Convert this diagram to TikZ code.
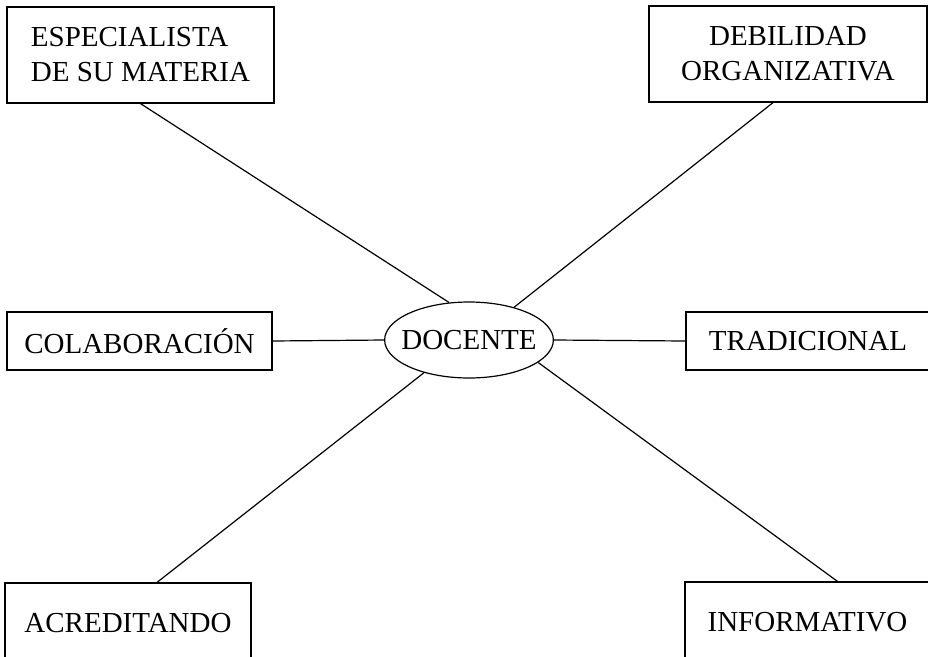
\documentclass[tikz,border=0pt]{standalone}
\usepackage{fontspec}
\setmainfont{Liberation Serif}
\usetikzlibrary{shapes.geometric}

\begin{document}
\begin{tikzpicture}[x=1pt, y=-1pt, font=\fontsize{29}{35}\selectfont,
  caja/.style={shape=rectangle, draw, line width=1.2pt, inner sep=0pt},
  enlace/.style={every edge/.style={draw, line width=1.2pt}}]
\useasboundingbox (0,0) rectangle (928,656);
\clip (0,0) rectangle (928,656);
\node[caja, minimum width=267pt, minimum height=96pt, align=left] (esp) at (140.5,55) {ESPECIALISTA\\DE SU MATERIA};
\node[caja, minimum width=278pt, minimum height=96pt, align=center] (deb) at (788,54) {DEBILIDAD\\ORGANIZATIVA};
\node[caja, minimum width=265pt, minimum height=58pt] (col) at (139.5,341) {COLABORACIÓN};
\node[shape=ellipse, draw, line width=1.2pt, inner xsep=-8pt, inner ysep=0pt, minimum width=168pt, minimum height=76pt] (doc) at (469,340) {DOCENTE};
\node[caja, minimum width=244pt, minimum height=58pt] (tra) at (808,341) {TRADICIONAL};
\node[caja, minimum width=246pt, minimum height=80pt] (acr) at (128,623) {ACREDITANDO};
\node[caja, minimum width=245pt, minimum height=80pt] (inf) at (807.5,622) {INFORMATIVO};
\path[enlace]
(esp.south) edge (doc.118)
([xshift=-15pt]deb.south) edge (doc.36)
(col.east) edge (doc.west)
(doc.east) edge (tra.west)
([xshift=29pt]acr.north) edge (doc.216)
([xshift=30pt]inf.north) edge (doc.-18);
\end{tikzpicture}
\end{document}
